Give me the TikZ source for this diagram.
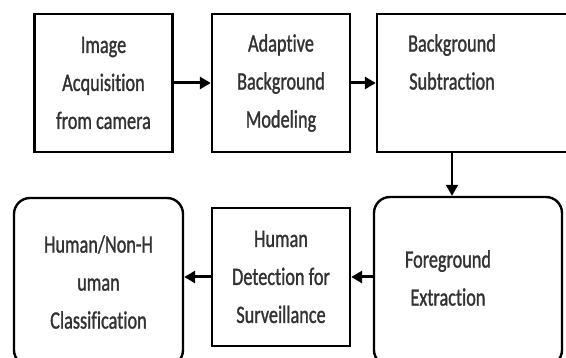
\documentclass[tikz,border=0pt]{standalone}
\usepackage{fontspec}
\newfontfamily\boxfont{Carlito}[FakeStretch=0.73,FakeBold=1.2,Ligatures=NoCommon]
\usetikzlibrary{arrows.meta,positioning}

\begin{document}
\begin{tikzpicture}[x=1pt,y=-1pt,>={Triangle[length=11pt,width=12pt]}]
 \tikzstyle{lbl} = [inner sep=0pt,align=center,text=black!80,font=\boxfont\fontsize{25}{38}\selectfont]
 \tikzstyle{stage} = [lbl,draw=black,line width=2.4pt,rectangle,minimum width=138pt,minimum height=138pt]
 \tikzstyle{rstage} = [stage,rounded corners=16pt]
 \tikzstyle{flow} = [->,line width=3pt]

  \useasboundingbox (0,0) rectangle (566,358);

  % Top row
  \node[stage] (acq) at (103.5,83) {Image\\Acquisition\\from camera};
  \node[stage] (abm) at (281,83) {Adaptive\\Background\\Modeling};
  \node[stage,minimum width=224pt] (bgs) at (489,83) {};
  \node[lbl,anchor=north] (bgst) at (452,34) {Background\\Subtraction};

  % Bottom row
  \node[rstage,minimum width=188pt,minimum height=169pt] (fge) at (468,281.5) {};
  \node[lbl] (fget) at (448,278) {Foreground\\Extraction};
  \node[stage] (hds) at (281,277) {Human\\Detection for\\Surveillance};
  \node[rstage,minimum width=169pt,minimum height=168pt] (hnc) at (98.5,282) {Human/Non-H\\uman\\Classification};

  % Arrows
  \draw[flow] (acq) -- (abm);
  \draw[flow] (abm) -- (bgs);
  \draw[->,line width=2pt] (bgs.south -| bgst) -- (fge.north -| bgst);
  \draw[flow] (fge.west |- hds) -- (hds.east);
  \draw[flow] (hds.west) -- (hnc.east |- hds);

\end{tikzpicture}
\end{document}
